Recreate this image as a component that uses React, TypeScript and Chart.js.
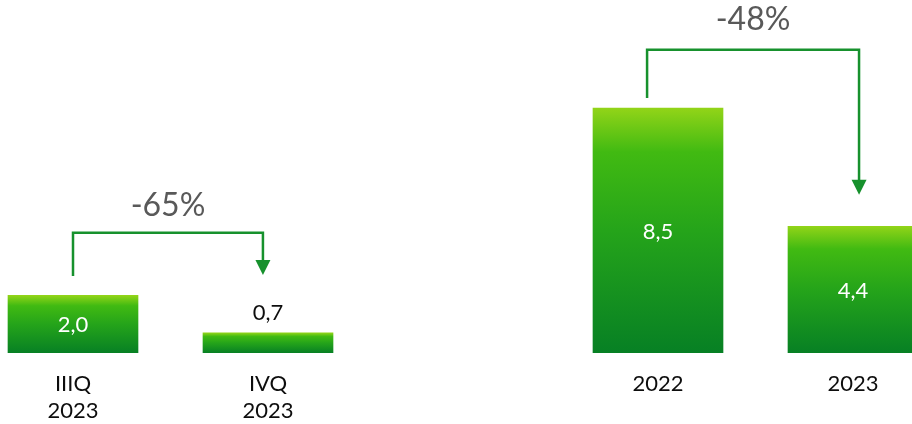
import React, { useEffect, useRef } from 'react';
import { Chart, registerables } from 'chart.js';

Chart.register(...registerables);

// ---- Data ----
const categories: string[] = ['IIIQ\n2023', 'IVQ\n2023', '', '2022', '2023'];
const values: (number | null)[] = [2.0, 0.7, null, 8.5, 4.4];
const changeLabels: string[] = ['-65%', '-48%'];

// ---- Annotation geometry (in axis units) ----
const arrowStartX = [0, 2.944];
const arrowEndX = [0.974, 4.031];
const arrowStartY = [2.67, 8.85];
const arrowLineY = [4.17, 10.52];
const arrowTipY = [2.71, 5.49];
const changeLabelY = [5.1, 11.58];

const FONT = 'Lato, "Noto Sans", sans-serif';
const ARROW_COLOR = '#17912D';

const fmt = (v: number) => v.toFixed(1).replace('.', ',');

const overlayPlugin = {
  id: 'overlay',
  afterDatasetsDraw(chart: any) {
    const ctx = chart.ctx as CanvasRenderingContext2D;
    const xs = chart.scales.x;
    const ys = chart.scales.y;
    const meta = chart.getDatasetMeta(0);
    ctx.save();
    // value labels
    meta.data.forEach((bar: any, i: number) => {
      const raw = chart.data.datasets[0].data[i] as any;
      const v = raw.y as number;
      const base = ys.getPixelForValue(0);
      const top = ys.getPixelForValue(v);
      const h = base - top;
      ctx.font = `22px ${FONT}`;
      ctx.textAlign = 'center';
      ctx.textBaseline = 'middle';
      if (h > 40) {
        ctx.fillStyle = '#ffffff';
        ctx.fillText(fmt(v), bar.x, (top + base) / 2 + 1);
      } else {
        ctx.fillStyle = '#0d0d0d';
        ctx.fillText(fmt(v), bar.x, top - 20);
      }
    });
    // arrows
    changeLabels.forEach((label, k) => {
      const x1 = xs.getPixelForValue(arrowStartX[k]);
      const x2 = xs.getPixelForValue(arrowEndX[k]);
      const y1 = ys.getPixelForValue(arrowStartY[k]);
      const yl = ys.getPixelForValue(arrowLineY[k]);
      const yt = ys.getPixelForValue(arrowTipY[k]);
      const head = 15;
      ctx.strokeStyle = ARROW_COLOR;
      ctx.fillStyle = ARROW_COLOR;
      ctx.lineWidth = 2.5;
      ctx.lineJoin = 'miter';
      ctx.beginPath();
      ctx.moveTo(x1, y1);
      ctx.lineTo(x1, yl);
      ctx.lineTo(x2, yl);
      ctx.lineTo(x2, yt - head + 1);
      ctx.stroke();
      ctx.beginPath();
      ctx.moveTo(x2 - 7.5, yt - head);
      ctx.lineTo(x2 + 7.5, yt - head);
      ctx.lineTo(x2, yt);
      ctx.closePath();
      ctx.fill();
      ctx.font = `32px ${FONT}`;
      ctx.textAlign = 'center';
      ctx.textBaseline = 'middle';
      ctx.fillStyle = '#595959';
      ctx.fillText(label, (x1 + x2) / 2, ys.getPixelForValue(changeLabelY[k]));
    });
    ctx.restore();
  },
};

export default function App() {
  const ref = useRef<HTMLCanvasElement | null>(null);

  useEffect(() => {
    if (!ref.current) return;
    const points = values
      .map((v, i) => ({ x: i, y: v }))
      .filter((d) => d.y !== null) as { x: number; y: number }[];

    const chart = new Chart(ref.current, {
      type: 'bar',
      data: {
        datasets: [
          {
            data: points as any,
            barThickness: 130,
            borderWidth: 0,
            backgroundColor: (c: any) => {
              const chartObj = c.chart;
              const ys = chartObj.scales?.y;
              if (!ys || !c.raw) return '#3CB914';
              const top = ys.getPixelForValue(c.raw.y);
              const base = ys.getPixelForValue(0);
              if (!Number.isFinite(top) || !Number.isFinite(base) || top === base) return '#3CB914';
              const g = chartObj.ctx.createLinearGradient(0, top, 0, base);
              g.addColorStop(0, '#92D418');
              g.addColorStop(0.18, '#41BA12');
              g.addColorStop(0.5, '#25A41A');
              g.addColorStop(1, '#078024');
              return g;
            },
          },
        ],
      },
      options: {
        responsive: false,
        animation: false,
        layout: { padding: 0 },
        plugins: { legend: { display: false }, tooltip: { enabled: false } },
        scales: {
          x: {
            type: 'linear',
            offset: false,
            min: -73 / 195,
            max: (912 - 73) / 195,
            grid: { display: false, drawTicks: false },
            border: { display: false },
            afterFit: (scale: any) => {
              scale.height = 71;
            },
            ticks: {
              stepSize: 1,
              includeBounds: false,
              padding: 17,
              color: '#0d0d0d',
              font: { family: FONT, size: 22, lineHeight: 27 / 22 },
              maxRotation: 0,
              minRotation: 0,
              autoSkip: false,
              callback: (val: any) => {
                const i = Number(val);
                if (!Number.isInteger(i) || !categories[i]) return '';
                const parts = categories[i].split('\n');
                return parts.length > 1 ? parts : parts[0];
              },
            },
          },
          y: {
            display: false,
            min: 0,
            max: 12.25,
          },
        },
      },
      plugins: [overlayPlugin],
    });
    return () => chart.destroy();
  }, []);

  return (
    <div style={{ position: 'absolute', left: 0, top: 0, width: 912, height: 424, background: '#fff' }}>
      <canvas ref={ref} width={912} height={424} style={{ display: 'block' }} />
    </div>
  );
}
